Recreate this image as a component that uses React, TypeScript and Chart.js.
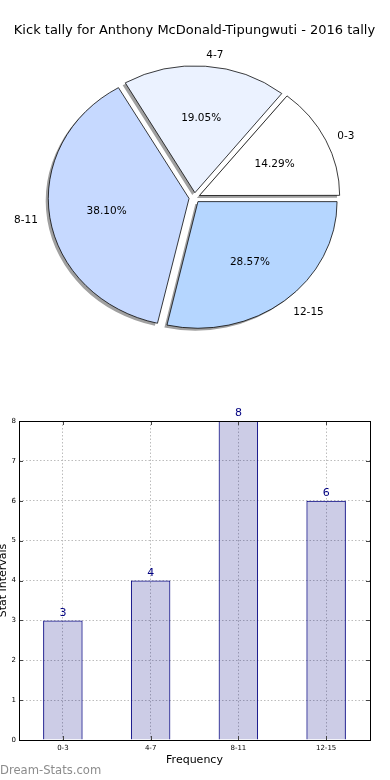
import React, { useEffect, useRef } from 'react';
import { Chart, registerables } from 'chart.js';

Chart.register(...registerables);

// ---- data ----
const categories = ['0-3', '4-7', '8-11', '12-15'];
const tally = [3, 4, 8, 6];
const pieColors = ['#ffffff', '#ebf2ff', '#c6d9ff', '#b5d6ff'];
const titleText = 'Kick tally for Anthony McDonald-Tipungwuti - 2016 tally';
const xTitle = 'Frequency';
const yTitle = 'Stat Intervals';
const watermark = 'Dream-Stats.com';

const FONT = "'DejaVu Sans', sans-serif";
const ELLIPSE_Y = 0.91;
const EXPLODE = 22; // chart.js arc offset (translation = offset / 4)
const SHADOW = '#a0a0a0';
const SHADOW_DX = -2.6;
const SHADOW_DY = 2.4;
const LABEL_DY = 1.5;

function applyEllipse(ctx: CanvasRenderingContext2D, cx: number, cy: number) {
  ctx.translate(cx, cy);
  ctx.scale(1, ELLIPSE_Y);
  ctx.translate(-cx, -cy);
}

const pieDecor = {
  id: 'pieDecor',
  beforeDatasetsDraw(chart: any) {
    const ctx = chart.ctx;
    const meta = chart.getDatasetMeta(0);
    const el0 = meta.data[0];
    const cx = el0.x, cy = el0.y;
    // shadow pass: same arc elements, drawn in grey, shifted
    ctx.save();
    ctx.translate(SHADOW_DX, SHADOW_DY);
    applyEllipse(ctx, cx, cy);
    meta.data.forEach((el: any) => {
      const o = el.options;
      const ghost = Object.create(el);
      ghost.options = {
        offset: o.offset,
        spacing: 0,
        circular: true,
        borderAlign: 'center',
        borderWidth: 0,
        borderRadius: 0,
        borderJoinStyle: 'round',
        borderDash: [],
        borderDashOffset: 0,
        backgroundColor: SHADOW,
        borderColor: SHADOW,
        selfJoin: false,
      };
      el.draw.call(ghost, ctx);
    });
    ctx.restore();
    // main pass transform
    ctx.save();
    applyEllipse(ctx, cx, cy);
  },
  afterDatasetsDraw(chart: any) {
    const ctx = chart.ctx;
    ctx.restore();
    const meta = chart.getDatasetMeta(0);
    const values: number[] = chart.data.datasets[0].data;
    const labels: string[] = chart.data.labels;
    const total = values.reduce((a, b) => a + b, 0);
    const d = EXPLODE / 4;
    ctx.save();
    ctx.fillStyle = '#000';
    ctx.font = `10.5px ${FONT}`;
    meta.data.forEach((el: any, i: number) => {
      const { x, y, startAngle, endAngle, outerRadius } = el.getProps(
        ['x', 'y', 'startAngle', 'endAngle', 'outerRadius'],
        true
      );
      const mid = (startAngle + endAngle) / 2;
      const c = Math.cos(mid), s = Math.sin(mid);
      const pos = (k: number) => [
        x + c * (d + k * outerRadius),
        y + s * (d + k * outerRadius) * ELLIPSE_Y + LABEL_DY,
      ];
      const [px, py] = pos(0.6);
      ctx.textAlign = 'center';
      ctx.textBaseline = 'middle';
      ctx.fillText(((values[i] / total) * 100).toFixed(2) + '%', px, py);
      const [lx, ly] = pos(1.1);
      ctx.textAlign = c > 0 ? 'left' : 'right';
      ctx.fillText(labels[i], lx, ly);
    });
    ctx.restore();
  },
};

const barDecor = {
  id: 'barDecor',
  afterDatasetsDraw(chart: any) {
    const ctx = chart.ctx;
    const { left, right, top, bottom } = chart.chartArea;
    ctx.save();
    // ticks inside the frame
    ctx.strokeStyle = '#444';
    ctx.lineWidth = 1;
    const ys = chart.scales.y;
    ys.ticks.forEach((t: any) => {
      const py = Math.round(ys.getPixelForValue(t.value)) + 0.5;
      ctx.beginPath();
      ctx.moveTo(left, py); ctx.lineTo(left + 4, py);
      ctx.moveTo(right - 4, py); ctx.lineTo(right, py);
      ctx.stroke();
    });
    const xs = chart.scales.x;
    categories.forEach((_, i) => {
      const px = Math.round(xs.getPixelForValue(i)) + 0.5;
      ctx.beginPath();
      ctx.moveTo(px, bottom); ctx.lineTo(px, bottom - 4);
      ctx.moveTo(px, top); ctx.lineTo(px, top + 4);
      ctx.stroke();
    });
    // frame
    ctx.strokeStyle = '#000';
    ctx.strokeRect(left + 0.5, top + 0.5, right - left, bottom - top);
    // value labels
    const meta = chart.getDatasetMeta(0);
    const values: number[] = chart.data.datasets[0].data;
    ctx.fillStyle = '#000080';
    ctx.font = `11px ${FONT}`;
    ctx.textAlign = 'center';
    ctx.textBaseline = 'bottom';
    meta.data.forEach((bar: any, i: number) => {
      ctx.fillText(String(values[i]), bar.x, bar.y - 2);
    });
    ctx.restore();
  },
};

export default function App() {
  const pieRef = useRef<HTMLCanvasElement>(null);
  const barRef = useRef<HTMLCanvasElement>(null);

  useEffect(() => {
    const pieLabels = [...categories].reverse();
    const pieData = [...tally].reverse();
    const pieBg = [...pieColors].reverse();

    const pie = new Chart(pieRef.current as HTMLCanvasElement, {
      type: 'pie',
      data: {
        labels: pieLabels,
        datasets: [
          {
            data: pieData,
            backgroundColor: pieBg,
            borderColor: '#000',
            borderWidth: 0.8,
            offset: EXPLODE,
            hoverOffset: EXPLODE,
            radius: 139,
            rotation: 90,
          } as any,
        ],
      },
      options: {
        animation: false,
        responsive: false,
        events: [],
        rotation: 90,
        layout: { padding: { left: 0, right: 1, top: 0, bottom: 43.4 } },
        plugins: {
          legend: { display: false },
          tooltip: { enabled: false },
          title: {
            display: true,
            text: titleText,
            color: '#000',
            font: { family: FONT, size: 13, weight: 'normal' },
            padding: { top: 23.2, bottom: 0 },
          },
        },
      } as any,
      plugins: [pieDecor],
    });

    const gridColor = '#bcbcbc';
    const gridDash = [1.5, 2];

    const bar = new Chart(barRef.current as HTMLCanvasElement, {
      type: 'bar',
      data: {
        labels: categories,
        datasets: [
          {
            data: tally,
            backgroundColor: 'rgba(0,0,128,0.2)',
            borderColor: '#000080',
            borderWidth: 1,
            barPercentage: 0.45,
            categoryPercentage: 1,
          },
        ],
      },
      options: {
        animation: false,
        responsive: false,
        events: [],
        layout: { padding: { top: 21, right: 20, left: 0, bottom: 0 } },
        plugins: { legend: { display: false }, tooltip: { enabled: false } },
        scales: {
          x: {
            grid: { offset: false, color: gridColor, lineWidth: 1, drawTicks: false },
            border: { display: false, dash: gridDash },
            ticks: { font: { family: FONT, size: 7 }, color: '#000', padding: 4 },
            title: {
              display: true,
              text: xTitle,
              color: '#000',
              font: { family: FONT, size: 11 },
              padding: { top: 0, bottom: 13 },
            },
            afterFit: (s: any) => {
              s.height = 40;
            },
          },
          y: {
            min: 0,
            max: 8,
            grid: { color: gridColor, lineWidth: 1, drawTicks: false },
            border: { display: false, dash: gridDash },
            ticks: { stepSize: 1, font: { family: FONT, size: 7 }, color: '#000', padding: 3 },
            title: {
              display: true,
              text: yTitle,
              color: '#000',
              font: { family: FONT, size: 11 },
              padding: { top: -3, bottom: 0 },
            },
            afterFit: (s: any) => {
              s.width = 19;
            },
          },
        },
      } as any,
      plugins: [barDecor],
    });

    return () => {
      pie.destroy();
      bar.destroy();
    };
  }, []);

  return (
    <div
      style={{
        position: 'absolute',
        left: 0,
        top: 0,
        width: 390,
        height: 780,
        background: '#fff',
        overflow: 'hidden',
      }}
    >
      <canvas
        ref={pieRef}
        width={390}
        height={400}
        style={{ position: 'absolute', left: 0, top: 0, width: 390, height: 400, display: 'block' }}
      />
      <canvas
        ref={barRef}
        width={390}
        height={380}
        style={{ position: 'absolute', left: 0, top: 400, width: 390, height: 380, display: 'block' }}
      />
      <div
        style={{
          position: 'absolute',
          left: 0,
          top: 763,
          fontFamily: FONT,
          fontSize: 11.6,
          lineHeight: '14px',
          color: '#8c8c8c',
          whiteSpace: 'nowrap',
        }}
      >
        {watermark}
      </div>
    </div>
  );
}
